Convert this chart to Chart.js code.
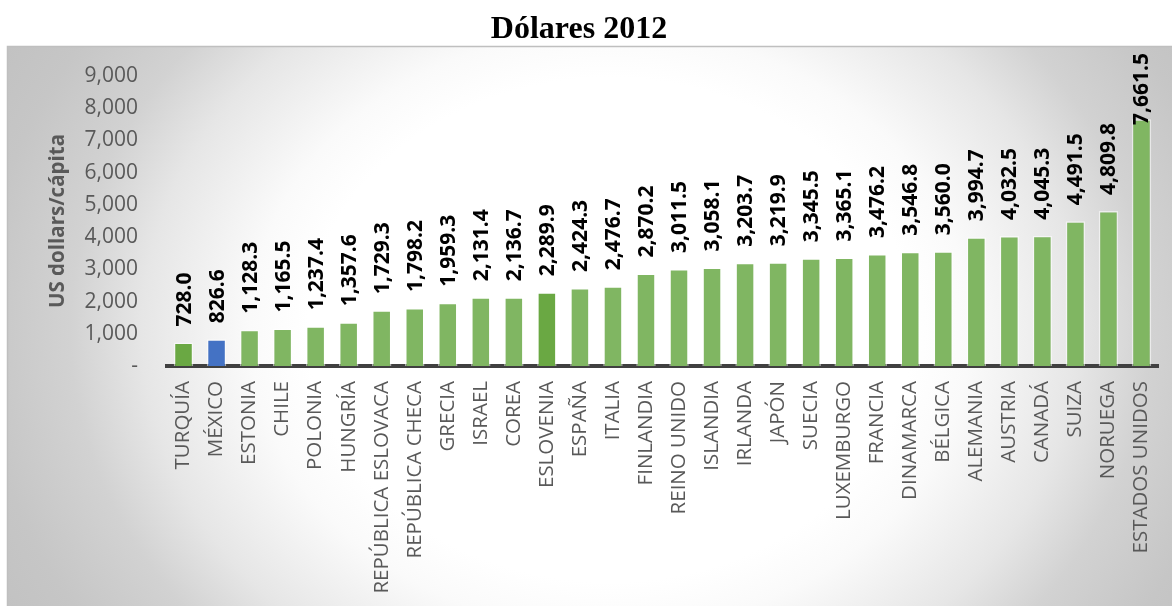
<!DOCTYPE html>
<html>
<head>
<meta charset="utf-8">
<title>Dólares 2012</title>
<script src="https://cdn.jsdelivr.net/npm/chart.js@4.4.1/dist/chart.umd.min.js"></script>
<style>
    html, body { margin: 0; padding: 0; background: #ffffff; }
    #wrap { width: 1172px; height: 606px; position: relative; }
</style>
</head>
<body>
<div id="wrap"><canvas id="gastoChart" width="1172" height="606"></canvas></div>
<script>
// Gasto en salud per cápita, dólares 2012
const paises = [
    "TURQUÍA", "MÉXICO", "ESTONIA", "CHILE", "POLONIA", "HUNGRÍA",
    "REPÚBLICA ESLOVACA", "REPÚBLICA CHECA", "GRECIA", "ISRAEL", "COREA",
    "ESLOVENIA", "ESPAÑA", "ITALIA", "FINLANDIA", "REINO UNIDO", "ISLANDIA",
    "IRLANDA", "JAPÓN", "SUECIA", "LUXEMBURGO", "FRANCIA", "DINAMARCA",
    "BÉLGICA", "ALEMANIA", "AUSTRIA", "CANADÁ", "SUIZA", "NORUEGA",
    "ESTADOS UNIDOS"
];
const dolares = [
    728.0, 826.6, 1128.3, 1165.5, 1237.4, 1357.6,
    1729.3, 1798.2, 1959.3, 2131.4, 2136.7,
    2289.9, 2424.3, 2476.7, 2870.2, 3011.5, 3058.1,
    3203.7, 3219.9, 3345.5, 3365.1, 3476.2, 3546.8,
    3560.0, 3994.7, 4032.5, 4045.3, 4491.5, 4809.8,
    7661.5
];
const yTicks = [0, 1000, 2000, 3000, 4000, 5000, 6000, 7000, 8000, 9000];

const verde = "#80b662";
const verdeOscuro = "#6aa843";
const azul = "#4472c4";
const barColors = paises.map(function (p) {
    if (p === "MÉXICO") return azul;
    if (p === "TURQUÍA" || p === "ESLOVENIA") return verdeOscuro;
    return verde;
});

const gris = "#595959";

// grey radial backdrop behind the plot
const fondoPlugin = {
    id: "fondo",
    beforeDraw: function (chart) {
        const ctx = chart.ctx;
        const x0 = 8, y0 = 47, w = 1164, h = 559;
        ctx.save();
        ctx.beginPath();
        ctx.rect(x0, y0, w, h);
        ctx.clip();
        ctx.translate(610, 330);
        ctx.scale(1, 500 / 600);
        const r = 600 * 1.2;
        const g = ctx.createRadialGradient(0, 0, 0, 0, 0, r);
        g.addColorStop(0.0, "#ffffff");
        g.addColorStop(0.42, "#ffffff");
        g.addColorStop(0.5, "#fafafa");
        g.addColorStop(0.65, "#e6e6e6");
        g.addColorStop(0.75, "#d2d2d2");
        g.addColorStop(0.875, "#c6c6c6");
        g.addColorStop(1.0, "#c0c0c0");
        ctx.fillStyle = g;
        ctx.fillRect(-r, -r, 2 * r, 2 * r);
        ctx.restore();

        ctx.save();
        ctx.strokeStyle = "#bfbfbf";
        ctx.lineWidth = 1.5;
        ctx.beginPath();
        ctx.moveTo(x0 - 0.5, h + y0);
        ctx.lineTo(x0 - 0.5, y0 - 0.5);
        ctx.lineTo(1172, y0 - 0.5);
        ctx.stroke();
        ctx.restore();
    }
};

// vertical value labels above each bar
const etiquetasPlugin = {
    id: "etiquetas",
    afterDatasetsDraw: function (chart) {
        const ctx = chart.ctx;
        const meta = chart.getDatasetMeta(0);
        ctx.save();
        ctx.font = "bold 21px 'Open Sans'";
        ctx.fillStyle = "#000000";
        ctx.textAlign = "left";
        ctx.textBaseline = "middle";
        meta.data.forEach(function (bar, i) {
            const txt = dolares[i].toLocaleString("en-US", {
                minimumFractionDigits: 1,
                maximumFractionDigits: 1
            });
            const tw = ctx.measureText(txt).width;
            let start = bar.y - 16;
            if (start - tw < 53) start = 53 + tw;
            ctx.save();
            ctx.translate(bar.x + 1, start);
            ctx.rotate(-Math.PI / 2);
            ctx.fillText(txt, 0, 0);
            ctx.restore();
        });
        ctx.restore();
    }
};

const ctx = document.getElementById("gastoChart").getContext("2d");
new Chart(ctx, {
    type: "bar",
    data: {
        labels: paises,
        datasets: [
            {
                label: "Dólares 2012",
                data: dolares,
                backgroundColor: barColors,
                borderColor: "rgba(255, 255, 255, 0.55)",
                borderWidth: 1.5,
                barPercentage: 0.59,
                categoryPercentage: 1.0
            }
        ]
    },
    options: {
        responsive: false,
        animation: false,
        layout: { padding: { left: 0, right: 14, top: 0, bottom: 0 } },
        plugins: {
            legend: { display: false },
            tooltip: { enabled: false },
            title: {
                display: true,
                text: "Dólares 2012",
                color: "#000000",
                font: { family: "'Liberation Serif'", size: 32, weight: "bold" },
                padding: { top: 11, bottom: 26.6 }
            }
        },
        scales: {
            x: {
                grid: { display: false, drawTicks: false },
                border: { display: true, color: "#404040", width: 4 },
                ticks: {
                    autoSkip: false,
                    maxRotation: 90,
                    minRotation: 90,
                    padding: 15,
                    color: gris,
                    font: { family: "'Open Sans'", size: 20.5 }
                },
                afterFit: function (scale) {
                    scale.height = 240;
                    scale.paddingLeft = 0;
                    scale.paddingRight = 0;
                }
            },
            y: {
                min: 0,
                max: 9000,
                grid: { display: false, drawTicks: false },
                border: { display: false },
                afterBuildTicks: function (scale) {
                    scale.ticks = yTicks.map(function (v) { return { value: v }; });
                },
                ticks: {
                    padding: 29,
                    color: gris,
                    font: { family: "'Open Sans'", size: 21 },
                    callback: function (v) {
                        return v === 0 ? "-" : v.toLocaleString("en-US");
                    }
                },
                title: {
                    display: true,
                    text: "US dollars/cápita",
                    color: gris,
                    font: { family: "'Open Sans'", size: 20.5, weight: "bold" },
                    padding: { top: 46, bottom: 0 }
                },
                afterFit: function (scale) { scale.width = 167; }
            }
        }
    },
    plugins: [fondoPlugin, etiquetasPlugin]
});
</script>
</body>
</html>
